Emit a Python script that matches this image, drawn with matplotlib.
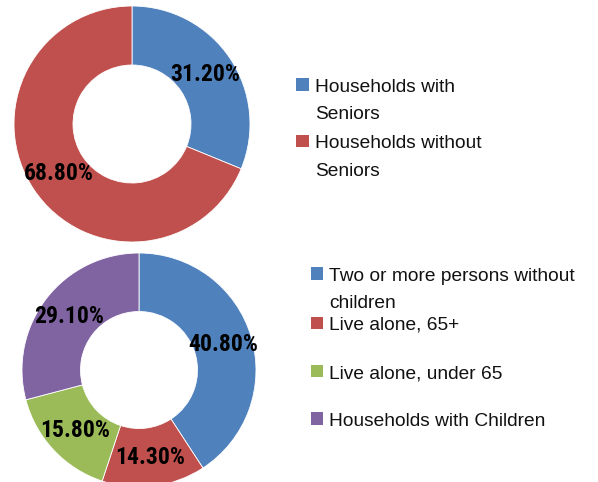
import matplotlib
matplotlib.use("Agg")
import matplotlib.pyplot as plt
from matplotlib.patches import Rectangle
from matplotlib import font_manager as fm

# ---- data ----
top_labels = ["Households with\nSeniors", "Households without\nSeniors"]
top_values = [31.2, 68.8]
bot_labels = ["Two or more persons without\nchildren", "Live alone, 65+",
              "Live alone, under 65", "Households with Children"]
bot_values = [40.8, 14.3, 15.8, 29.1]

top_colors = ["#4F81BD", "#C0504D"]
bot_colors = ["#4F81BD", "#C0504D", "#9BBB59", "#8064A2"]

names = {f.name for f in fm.fontManager.ttflist}
narrow = "Liberation Sans"
for cand in ["Arial Narrow", "Liberation Sans Narrow", "Roboto Condensed", "Archivo Narrow",
             "PT Sans Narrow", "Fira Sans Condensed", "IBM Plex Sans Condensed",
             "Asap Condensed", "Encode Sans Condensed"]:
    if cand in names:
        narrow = cand
        break

W, H = 598, 482
fig = plt.figure(figsize=(W / 100, H / 100), dpi=100)


def px_axes(left, top, w, h):
    return fig.add_axes([left / W, (H - top - h) / H, w / W, h / H])


def donut(ax, values, colors):
    wedges, texts, autotexts = ax.pie(
        values, colors=colors, startangle=90, counterclock=False,
        radius=1.0, autopct="%.2f%%", pctdistance=0.75,
        wedgeprops=dict(width=0.5, edgecolor="white", linewidth=0.6),
        textprops=dict(fontfamily=narrow, fontweight="bold", fontsize=17, color="black"))
    ax.set_xlim(-1, 1)
    ax.set_ylim(-1, 1)
    ax.set_aspect("equal")
    ax.axis("off")


ax1 = px_axes(14, 6, 236, 236)
donut(ax1, top_values, top_colors)
ax2 = px_axes(22, 253, 234, 234)
donut(ax2, bot_values, bot_colors)

# legend overlay in pixel coordinates
ov = fig.add_axes([0, 0, 1, 1])
ov.set_xlim(0, W)
ov.set_ylim(H, 0)
ov.axis("off")

fs = 13.8
step = 27.5


def legend(labels, colors, mx, tx, baselines, msize=12.5):
    for lab, col, base in zip(labels, colors, baselines):
        ov.add_patch(Rectangle((mx, base - 1 - msize), msize, msize, facecolor=col, edgecolor="none"))
        for i, line in enumerate(lab.split("\n")):
            ov.text(tx, base + i * step, line, fontsize=fs, fontfamily="Liberation Sans",
                    color="#111111", va="baseline", ha="left")


legend(top_labels, top_colors, 296, 315, [91.7, 148.3])
legend(bot_labels, bot_colors, 310.5, 329, [280.7, 330, 378.3, 425.7])

fig.savefig("out.png", dpi=100)
